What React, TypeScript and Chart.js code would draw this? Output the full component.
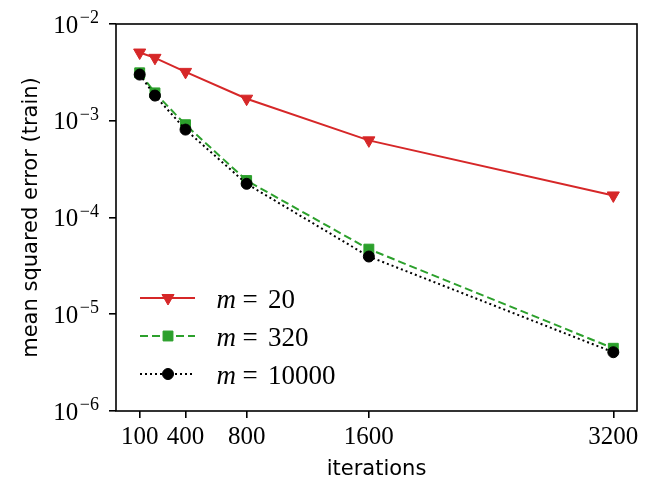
import React, { useEffect, useRef } from 'react';
import { Chart, registerables } from 'chart.js';

Chart.register(...registerables);

const iterations = [100, 200, 400, 800, 1600, 3200];
const mseM20 = [5.07e-3, 4.47e-3, 3.2e-3, 1.69e-3, 6.27e-4, 1.69e-4];
const mseM320 = [3.13e-3, 1.94e-3, 9.1e-4, 2.41e-4, 4.71e-5, 4.45e-6];
const mseM10000 = [3.0e-3, 1.82e-3, 8.1e-4, 2.23e-4, 3.95e-5, 4.05e-6];
const xTickValues = [100, 400, 800, 1600, 3200];
const yTickExponents = [-2, -3, -4, -5, -6];
const seriesM = ['20', '320', '10000'];
const xTitle = 'iterations';
const yTitle = 'mean squared error (train)';

const RED = '#d62728';
const GREEN = '#2ca02c';
const BLACK = '#000000';
const SERIF = '"Liberation Serif", "DejaVu Serif", serif';
const SANS = '"DejaVu Sans", sans-serif';

const legendStyles = [
  { color: RED, dash: [] as number[], marker: 'tri' },
  { color: GREEN, dash: [8, 4], marker: 'square' },
  { color: BLACK, dash: [2, 3], marker: 'circle' },
];

function drawMarker(ctx: CanvasRenderingContext2D, kind: string, x: number, y: number, color: string) {
  ctx.save();
  ctx.setLineDash([]);
  ctx.fillStyle = color;
  ctx.strokeStyle = color;
  ctx.lineWidth = 1;
  ctx.beginPath();
  if (kind === 'tri') {
    const r = 7;
    ctx.moveTo(x, y + r);
    ctx.lineTo(x - r * Math.sin(Math.PI / 3), y - r / 2);
    ctx.lineTo(x + r * Math.sin(Math.PI / 3), y - r / 2);
    ctx.closePath();
  } else if (kind === 'square') {
    const s = 7 * Math.SQRT1_2;
    ctx.rect(x - s, y - s, 2 * s, 2 * s);
  } else {
    ctx.arc(x, y, 5.5, 0, Math.PI * 2);
  }
  ctx.fill();
  ctx.stroke();
  ctx.restore();
}

const framePlugin = {
  id: 'frame',
  afterDatasetsDraw(chart: any) {
    const { ctx, chartArea: a } = chart;
    ctx.save();
    ctx.strokeStyle = BLACK;
    ctx.lineWidth = 1.6;
    ctx.setLineDash([]);
    ctx.strokeRect(a.left, a.top, a.right - a.left, a.bottom - a.top);
    ctx.restore();
  },
};

const yLabelPlugin = {
  id: 'ylabels',
  afterDraw(chart: any) {
    const { ctx, chartArea: a } = chart;
    const ys = chart.scales.y;
    const right = a.left - 17;
    ctx.save();
    ctx.fillStyle = BLACK;
    ctx.textAlign = 'left';
    ctx.textBaseline = 'alphabetic';
    for (const e of yTickExponents) {
      const y = ys.getPixelForValue(Math.pow(10, e));
      const exp = '\u2212' + Math.abs(e);
      ctx.font = `18px ${SERIF}`;
      const ew = ctx.measureText(exp).width;
      ctx.fillText(exp, right - ew, y - 1);
      ctx.font = `25px ${SERIF}`;
      const bw = ctx.measureText('10').width;
      ctx.fillText('10', right - ew - 1.5 - bw, y + 8.5);
    }
    ctx.restore();
  },
};

const legendPlugin = {
  id: 'customLegend',
  afterDraw(chart: any) {
    const { ctx, chartArea: a } = chart;
    ctx.save();
    legendStyles.forEach((st, i) => {
      const y = a.bottom - 113 + i * 38;
      ctx.strokeStyle = st.color;
      ctx.lineWidth = 2;
      ctx.setLineDash(st.dash);
      ctx.beginPath();
      ctx.moveTo(a.left + 24, y);
      ctx.lineTo(a.left + 79, y);
      ctx.stroke();
      drawMarker(ctx, st.marker, a.left + 52, y, st.color);
      ctx.fillStyle = BLACK;
      ctx.textBaseline = 'alphabetic';
      ctx.textAlign = 'left';
      ctx.font = `italic 27px ${SERIF}`;
      ctx.fillText('m', a.left + 100.5, y + 10);
      ctx.font = `27px ${SERIF}`;
      ctx.textAlign = 'center';
      ctx.fillText('=', a.left + 134, y + 10);
      ctx.textAlign = 'left';
      ctx.fillText(seriesM[i], a.left + 152, y + 10);
    });
    ctx.restore();
  },
};

export default function App() {
  const ref = useRef<HTMLCanvasElement>(null);
  useEffect(() => {
    const canvas = ref.current!;
    const gridOpts = {
      display: true,
      drawOnChartArea: false,
      drawTicks: true,
      tickLength: 7,
      color: BLACK,
      lineWidth: 1.6,
    };
    const chart = new Chart(canvas, {
      type: 'line',
      data: {
        datasets: [
          {
            label: 'm = 20',
            data: iterations.map((x, i) => ({ x, y: mseM20[i] })),
            borderColor: RED,
            backgroundColor: RED,
            borderWidth: 2,
            pointStyle: 'triangle',
            pointRotation: 180,
            pointRadius: 7,
            pointBorderWidth: 1,
            order: 3,
          },
          {
            label: 'm = 320',
            data: iterations.map((x, i) => ({ x, y: mseM320[i] })),
            borderColor: GREEN,
            backgroundColor: GREEN,
            borderWidth: 2,
            borderDash: [8, 4],
            pointStyle: 'rect',
            pointRadius: 7,
            pointBorderWidth: 1,
            order: 2,
          },
          {
            label: 'm = 10000',
            data: iterations.map((x, i) => ({ x, y: mseM10000[i] })),
            borderColor: BLACK,
            backgroundColor: BLACK,
            borderWidth: 2,
            borderDash: [2, 3],
            pointStyle: 'circle',
            pointRadius: 5.5,
            pointBorderWidth: 1,
            order: 1,
          },
        ],
      },
      options: {
        responsive: false,
        animation: false,
        layout: { padding: { left: 0, top: 24, right: 20, bottom: 0 } },
        plugins: { legend: { display: false }, tooltip: { enabled: false } },
        scales: {
          x: {
            type: 'linear',
            min: -55,
            max: 3355,
            afterBuildTicks: (s: any) => {
              s.ticks = xTickValues.map((v) => ({ value: v }));
            },
            afterFit: (s: any) => {
              s.height = 88;
            },
            ticks: {
              font: { family: SERIF, size: 25 },
              color: BLACK,
              padding: 4,
              maxRotation: 0,
              autoSkip: false,
              callback: (v: any) => String(v),
            },
            grid: gridOpts,
            border: { display: false },
            title: {
              display: true,
              text: xTitle,
              font: { family: SANS, size: 21 },
              color: BLACK,
              padding: { top: 0, bottom: 17 },
            },
          },
          y: {
            type: 'logarithmic',
            min: 1e-6,
            max: 1e-2,
            afterBuildTicks: (s: any) => {
              s.ticks = yTickExponents.map((e) => ({ value: Math.pow(10, e) }));
            },
            afterFit: (s: any) => {
              s.width = 116;
            },
            ticks: { display: false },
            grid: gridOpts,
            border: { display: false },
            title: {
              display: true,
              text: yTitle,
              font: { family: SANS, size: 21 },
              color: BLACK,
              padding: { top: 19, bottom: 0 },
            },
          },
        },
      } as any,
      plugins: [framePlugin, yLabelPlugin, legendPlugin],
    });
    return () => chart.destroy();
  }, []);
  return (
    <div style={{ position: 'absolute', left: 0, top: 0, width: 657, height: 499, background: '#fff' }}>
      <canvas ref={ref} width={657} height={499} style={{ display: 'block' }} />
    </div>
  );
}
